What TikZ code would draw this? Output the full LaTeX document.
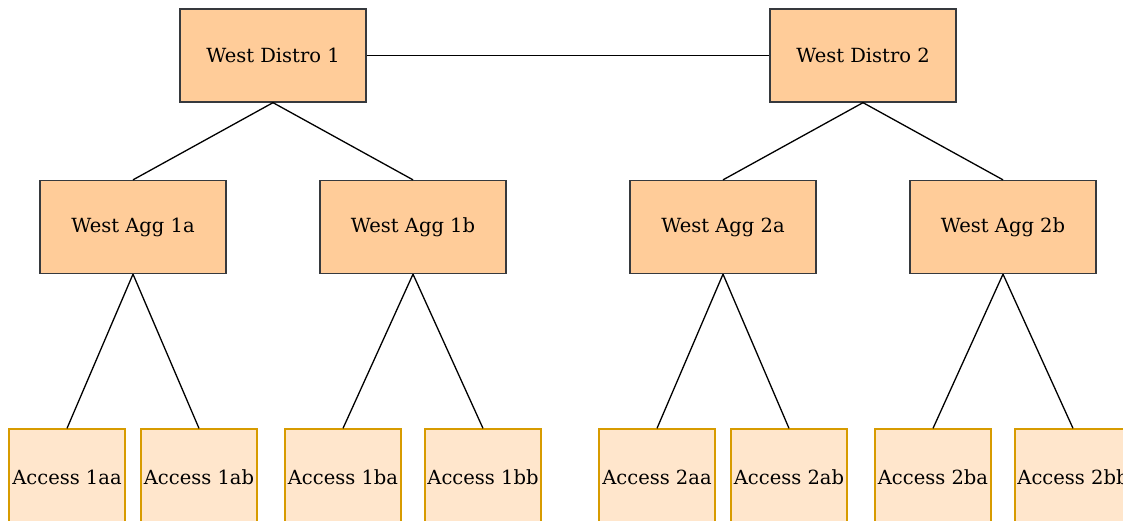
\documentclass[tikz,border=0pt]{standalone}
\usepackage{fontspec}
\setmainfont{DejaVu Serif}
\definecolor{distrofill}{HTML}{FFCC99}
\definecolor{distroline}{HTML}{36393D}
\definecolor{accessfill}{HTML}{FFE6CC}
\definecolor{accessline}{HTML}{D79B00}
\begin{document}
\begin{tikzpicture}[x=1pt,y=-1pt,
  corebox/.style={draw=distroline, fill=distrofill, line width=1.3pt,
    minimum width=186pt, minimum height=93pt, inner sep=0pt,
    font=\fontsize{19.5}{23}\selectfont},
  accbox/.style={draw=accessline, fill=accessfill, line width=1.3pt,
    minimum width=116pt, minimum height=96pt, inner sep=0pt,
    font=\fontsize{19.5}{23}\selectfont},
  link/.style={draw=black, line width=1.3pt}]
\useasboundingbox (0,0) rectangle (1123,520);
\clip (0,0) rectangle (1123,520);
% distribution layer
\node[corebox] (d1) at (273,55.5) {West Distro 1};
\node[corebox] (d2) at (863,55.5) {West Distro 2};
% aggregation layer
\node[corebox] (a1a) at (133,227) {West Agg 1a};
\node[corebox] (a1b) at (413,227) {West Agg 1b};
\node[corebox] (a2a) at (723,227) {West Agg 2a};
\node[corebox] (a2b) at (1003,227) {West Agg 2b};
% access layer
\node[accbox] (x1aa) at (67,477) {Access 1aa};
\node[accbox] (x1ab) at (199,477) {Access 1ab};
\node[accbox] (x1ba) at (343,477) {Access 1ba};
\node[accbox] (x1bb) at (483,477) {Access 1bb};
\node[accbox] (x2aa) at (657,477) {Access 2aa};
\node[accbox] (x2ab) at (789,477) {Access 2ab};
\node[accbox] (x2ba) at (933,477) {Access 2ba};
\node[accbox] (x2bb) at (1073,477) {Access 2bb};
% links
\path[link] (d1.east) -- (d2.west);
\path[link] (d1.south) -- (a1a.north);
\path[link] (d1.south) -- (a1b.north);
\path[link] (d2.south) -- (a2a.north);
\path[link] (d2.south) -- (a2b.north);
\path[link] (a1a.south) -- (x1aa.north);
\path[link] (a1a.south) -- (x1ab.north);
\path[link] (a1b.south) -- (x1ba.north);
\path[link] (a1b.south) -- (x1bb.north);
\path[link] (a2a.south) -- (x2aa.north);
\path[link] (a2a.south) -- (x2ab.north);
\path[link] (a2b.south) -- (x2ba.north);
\path[link] (a2b.south) -- (x2bb.north);
\end{tikzpicture}
\end{document}
